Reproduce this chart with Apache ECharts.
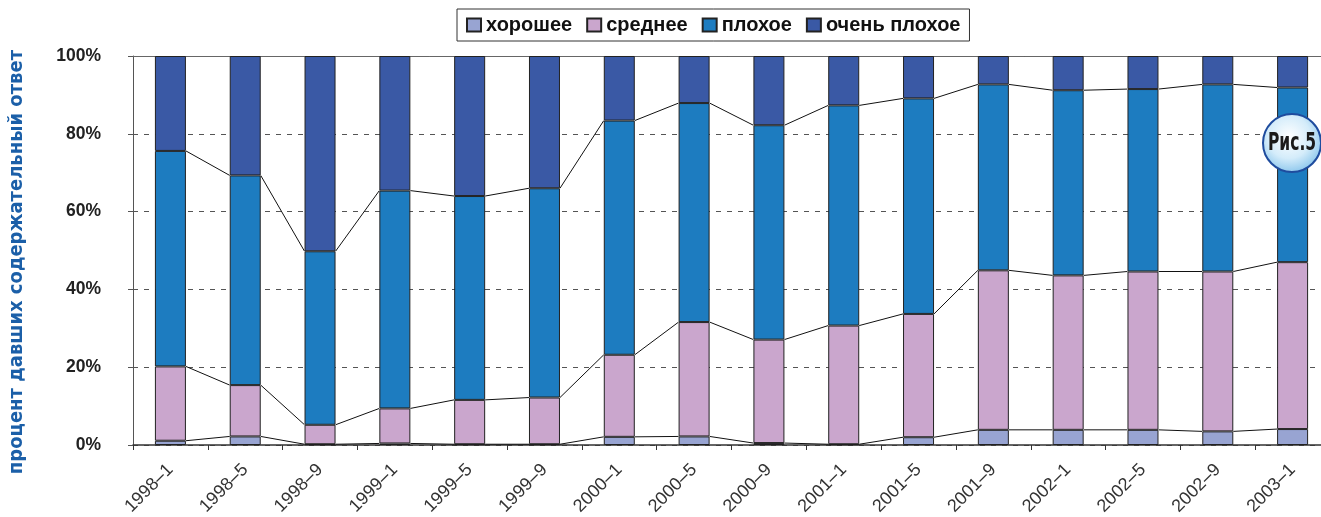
<!DOCTYPE html>
<html>
<head>
<meta charset="utf-8">
<script src="https://cdn.jsdelivr.net/npm/echarts@6/dist/echarts.min.js"></script>
<style>
html,body{margin:0;padding:0;background:#fff;}
#c{width:1321px;height:517px;}
</style>
</head>
<body>
<div id="c"></div>
<script>
const categories = ['1998–1','1998–5','1998–9','1999–1','1999–5','1999–9','2000–1','2000–5','2000–9','2001–1','2001–5','2001–9','2002–1','2002–5','2002–9','2003–1'];
const seriesNames = ['хорошее','среднее','плохое','очень плохое'];
const good    = [1.1, 2.2, 0.2, 0.4, 0.2, 0.2, 2.1, 2.2, 0.5, 0.2, 2.0, 3.9, 3.9, 3.9, 3.5, 4.1];
const medium  = [19.1, 13.2, 5.0, 9.0, 11.4, 12.0, 21.1, 29.4, 26.6, 30.5, 31.7, 41.0, 39.7, 40.7, 41.1, 42.9];
const bad     = [55.4, 53.9, 44.6, 56.0, 52.4, 53.8, 60.2, 56.3, 55.1, 56.6, 55.4, 47.8, 47.6, 46.9, 48.1, 44.9];
const veryBad = [24.4, 30.7, 50.2, 34.6, 36.0, 34.0, 16.6, 12.1, 17.8, 12.7, 10.9, 7.3, 8.8, 8.5, 7.3, 8.1];
const yTicks = [0, 20, 40, 60, 80, 100];
const yTitle = 'процент давших содержательный ответ';

const colors = ['#98A4D2', '#CAA6CD', '#1D7CC0', '#3A59A5'];
const BAR_W = 31;

const values = [good, medium, bad, veryBad];
// cumulative boundaries for the series lines
function cum(k) { return categories.map((_, i) => { let s = 0; for (let j = 0; j <= k; j++) s += values[j][i]; return s; }); }
const boundaries = [cum(0), cum(1), cum(2)];

const chart = echarts.init(document.getElementById('c'), null, {renderer: 'canvas'});

const barSeries = seriesNames.map((n, k) => ({
  name: n, type: 'bar', stack: 'total', barWidth: BAR_W, z: 3,
  data: values[k],
  itemStyle: {color: colors[k], borderColor: '#222', borderWidth: 1},
  emphasis: {disabled: true}
}));

const lineSeries = boundaries.map((b, k) => ({
  name: 'line' + k, type: 'custom', z: 4, silent: true,
  data: b.slice(0, -1).map((v, i) => [i, v, b[i + 1]]),
  encode: {x: 0, y: [1, 2]},
  renderItem: function (params, api) {
    const i = api.value(0);
    const p1 = api.coord([i, api.value(1)]);
    const p2 = api.coord([i + 1, api.value(2)]);
    const hw = BAR_W / 2;
    return {type: 'line', shape: {x1: p1[0] + hw, y1: p1[1], x2: p2[0] - hw, y2: p2[1]},
      style: {stroke: '#111', lineWidth: 1}};
  }
}));

chart.setOption({
  animation: false,
  color: colors,
  legend: {
    data: seriesNames,
    left: 457, top: 9,
    padding: [6, 9, 6, 9],
    itemWidth: 14, itemHeight: 13, itemGap: 14,
    borderColor: '#333', borderWidth: 1,
    icon: 'rect',
    textStyle: {fontFamily: 'Liberation Sans, Arial, sans-serif', fontWeight: 'bold', fontSize: 20, color: '#111'}
  },
  grid: {left: 133, top: 56, height: 389, width: 1197, outerBoundsMode: 'none', containLabel: false},
  xAxis: [{
    type: 'category', data: categories, position: 'bottom',
    axisLine: {lineStyle: {color: '#333', width: 1.5}},
    axisTick: {show: true, length: 5, lineStyle: {color: '#333'}},
    axisLabel: {interval: 0, rotate: 45, margin: 22, fontFamily: 'Liberation Sans, Arial, sans-serif', fontSize: 18, color: '#333'},
    splitLine: {show: false}
  }, {
    type: 'category', data: categories, position: 'top',
    axisLine: {lineStyle: {color: '#666', width: 1}},
    axisTick: {show: false}, axisLabel: {show: false}
  }],
  yAxis: {
    type: 'value', min: 0, max: 100, interval: 20,
    axisLine: {show: true, lineStyle: {color: '#555', width: 1}},
    axisTick: {show: true, length: 5, lineStyle: {color: '#555'}},
    axisLabel: {margin: 32, formatter: '{value}%', fontFamily: 'Liberation Sans, Arial, sans-serif', fontWeight: 'bold', fontSize: 17.5, color: '#222',
      customValues: yTicks},
    splitLine: {show: true, lineStyle: {color: '#555', type: [5, 6], width: 1}}
  },
  series: barSeries.concat(lineSeries),
  graphic: [{
    type: 'text', x: 17, y: 262, rotation: Math.PI / 2, z: 50,
    style: {text: yTitle, align: 'center', verticalAlign: 'middle', fill: '#1B5FA8',
      font: 'bold 20px "Liberation Sans Narrow", "DejaVu Sans Condensed", sans-serif'}
  }, {
    type: 'circle', z: 100, shape: {cx: 1292, cy: 143, r: 29},
    style: {
      fill: new echarts.graphic.RadialGradient(0.45, 0.4, 0.65, [
        {offset: 0, color: '#ffffff'}, {offset: 0.55, color: '#d4ecfa'}, {offset: 1, color: '#7fc0ea'}
      ]),
      stroke: '#1F4C9E', lineWidth: 2
    }
  }, {
    type: 'text', z: 101, x: 1292, y: 144, scaleX: 0.72, originX: 0, originY: 0,
    style: {text: 'Рис.5', align: 'center', verticalAlign: 'middle', fill: '#1a1a1a',
      font: 'bold 24px "Liberation Sans Narrow", "DejaVu Sans Condensed", sans-serif'}
  }]
});
</script>
</body>
</html>
